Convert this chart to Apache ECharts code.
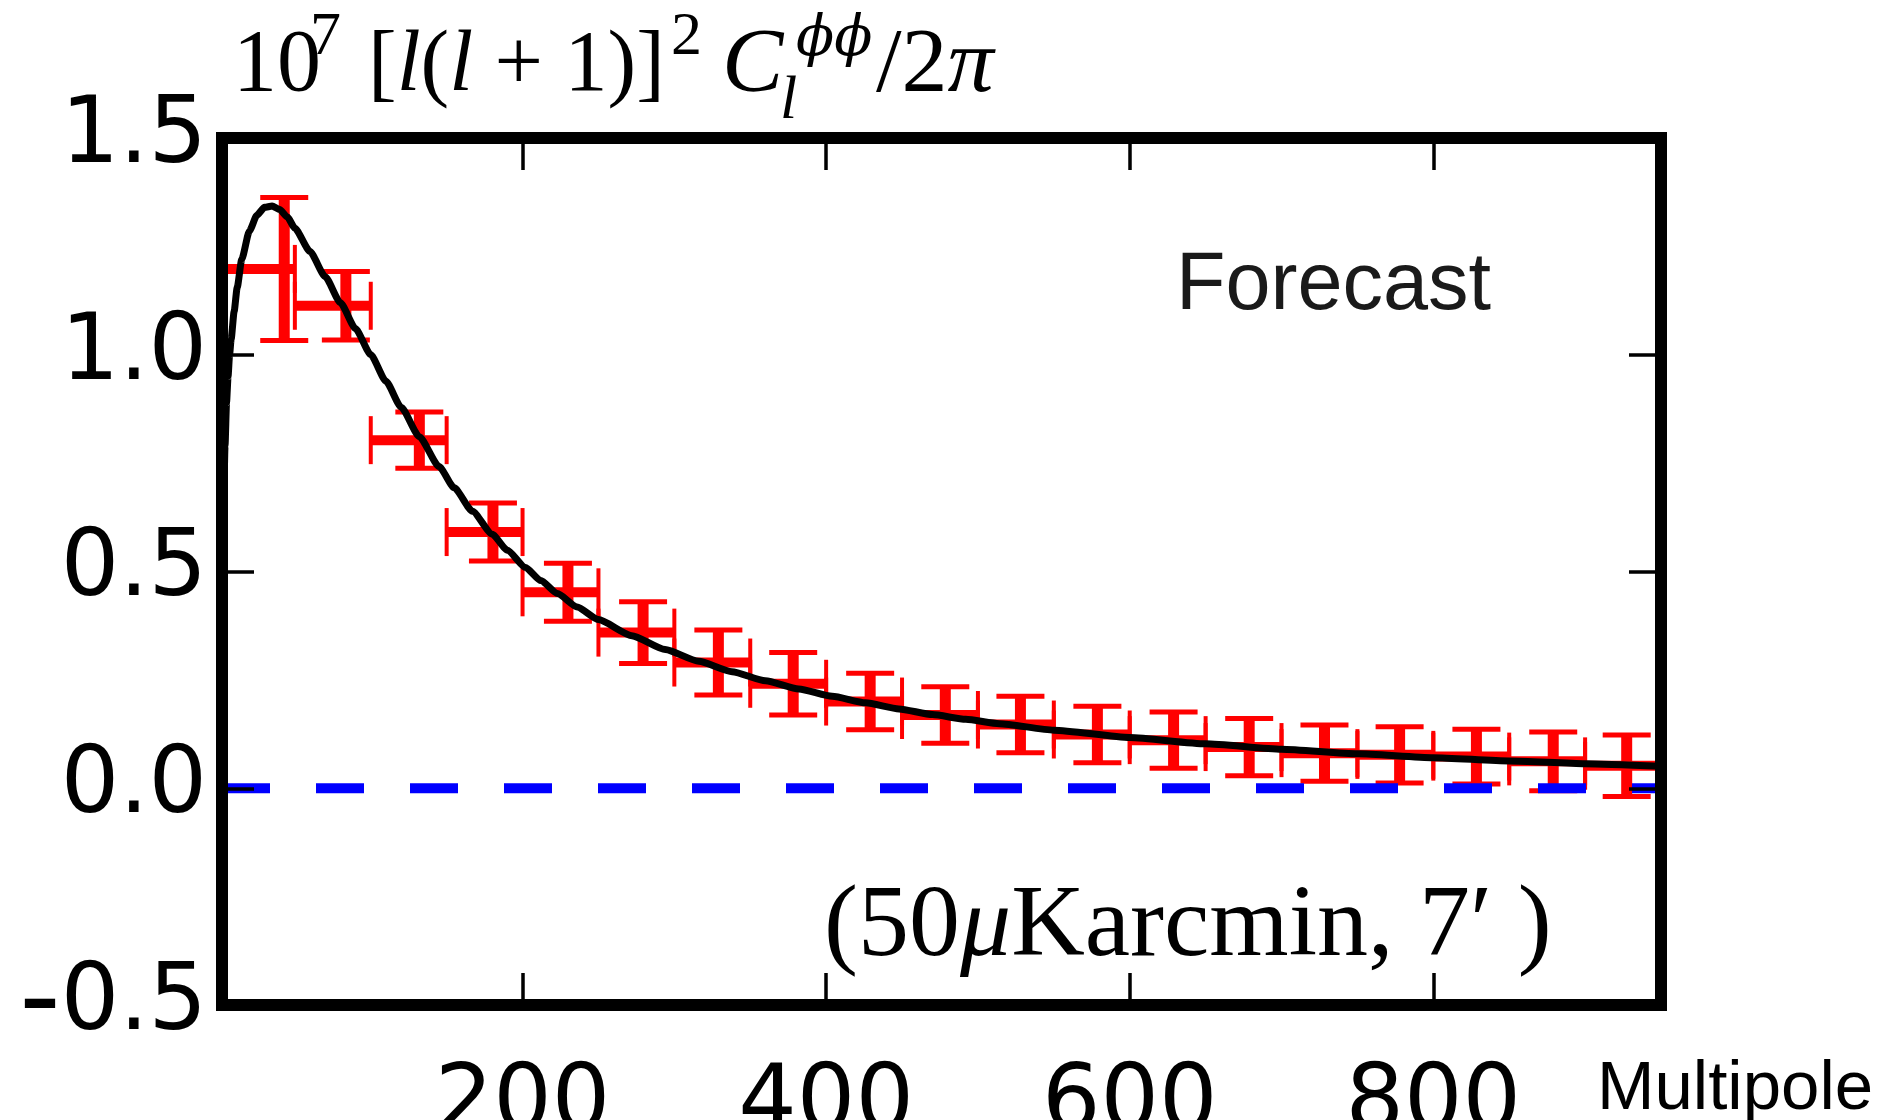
<!DOCTYPE html>
<html><head><meta charset="utf-8">
<script src="https://cdn.jsdelivr.net/npm/echarts@6/dist/echarts.min.js"></script>
<style>html,body{margin:0;padding:0;background:#fff}#c{width:1886px;height:1120px}</style>
</head><body><div id="c"></div>
<script>
// ---- data ----
const binLow  = [2,50,100,150,200,250,300,350,400,450,500,550,600,650,700,750,800,850,900];
const binHigh = [50,100,150,200,250,300,350,400,450,500,550,600,650,700,750,800,850,900,950];
const barL    = [43,83.6,132,180.5,229.9,279.4,329,378.3,429,478.5,528,578.7,628.9,678.7,728.3,777.8,828.4,879,927.4];
const barVal  = [1.198,1.113,0.803,0.591,0.452,0.359,0.290,0.241,0.200,0.169,0.147,0.124,0.111,0.095,0.081,0.077,0.073,0.062,0.052];
const barErr  = [0.165,0.079,0.065,0.067,0.067,0.071,0.075,0.072,0.065,0.065,0.065,0.065,0.065,0.066,0.065,0.065,0.063,0.068,0.071];

const curveL   = [2,3,4,5,6,7,8,10,12,15,20,25,30,35,40,45,50,60,70,80,90,100,110,120,132,145,155,167,180,190,202,212,223,236,250,272,294,316,338,360,382,404,426,448,470,492,514,550,600,650,700,750,800,850,900,950];
const curveVal = [0.45,0.65,0.79,0.89,0.95,1.0,1.035,1.10,1.155,1.22,1.285,1.322,1.34,1.343,1.335,1.318,1.292,1.238,1.18,1.12,1.06,1.0,0.939,0.879,0.811,0.742,0.693,0.639,0.586,0.549,0.509,0.479,0.449,0.418,0.389,0.352,0.320,0.293,0.269,0.248,0.229,0.212,0.197,0.183,0.170,0.159,0.149,0.134,0.117,0.1025,0.090,0.0795,0.0705,0.063,0.0565,0.0505];

const zeroLine = [[2,0],[950,0]];
const xTicks = [200,400,600,800];
const xMin = 2, xMax = 950;
const yMin = -0.5, yMax = 1.5, yStep = 0.5;

// ---- build ----
const errData = binLow.map((lo,i)=>[lo, binHigh[i], barL[i], barVal[i], barErr[i]]);
const curveData = curveL.map((l,i)=>[l, curveVal[i]]);

const chart = echarts.init(document.getElementById('c'), null, {renderer:'canvas'});

const frameLine = {show:true, onZero:false, lineStyle:{color:'#000', width:12, cap:'square'}};
const tickStyle = {show:true, inside:true, length:32, lineStyle:{color:'#000', width:3.5}};
const labelFont = {fontFamily:'DejaVu Sans', fontSize:92, color:'#000'};

function txt(x, y, text, size, family, extra) {
  const g = {
    type:'text', x:x, y:y, z:20,
    style:Object.assign({
      text:text, fontSize:size, fontFamily:family, fill:'#000',
      verticalAlign:'middle', textVerticalAlign:'middle', align:'left', textAlign:'left'
    }, extra||{})
  };
  g.style.rich = {i:{fontStyle:'italic', fontSize:size, fontFamily:family, fill:g.style.fill}};
  return g;
}
const serif = 'Liberation Serif';

chart.setOption({
  animation:false,
  backgroundColor:'#fff',
  grid:{left:222, top:138, right:225, bottom:115, containLabel:false, outerBoundsMode:'none'},
  xAxis:[
    {type:'value', min:xMin, max:xMax, position:'bottom', z:10,
     axisLine:frameLine,
     axisTick:Object.assign({customValues:xTicks}, tickStyle),
     axisLabel:Object.assign({customValues:xTicks, margin:55}, labelFont),
     splitLine:{show:false}},
    {type:'value', min:xMin, max:xMax, position:'top', z:10,
     axisLine:frameLine,
     axisTick:Object.assign({customValues:xTicks}, tickStyle),
     axisLabel:{show:false}, splitLine:{show:false}}
  ],
  yAxis:[
    {type:'value', min:yMin, max:yMax, interval:yStep, position:'left', z:10,
     axisLine:frameLine, axisTick:tickStyle,
     axisLabel:Object.assign({
       margin:15,
       formatter:v=> v<0 ? '{m|-}' + Math.abs(v).toFixed(1) : v.toFixed(1),
       rich:{m:{fontSize:115, fontFamily:'DejaVu Sans', color:'#000'}}
     }, labelFont),
     splitLine:{show:false}},
    {type:'value', min:yMin, max:yMax, interval:yStep, position:'right', z:10,
     axisLine:frameLine, axisTick:tickStyle,
     axisLabel:{show:false}, splitLine:{show:false}}
  ],
  series:[
    {type:'custom', z:2, clip:true, data:errData, encode:{x:2, y:3},
     renderItem:function(params, api){
       const lo=api.value(0), hi=api.value(1), lm=api.value(2), v=api.value(3), e=api.value(4);
       const pLo=api.coord([lo,v]), pHi=api.coord([hi,v]);
       const pT=api.coord([lm,v+e]), pB=api.coord([lm,v-e]);
       const red='#ff0000', cap=24;
       const ln=(x1,y1,x2,y2,w)=>({type:'line', shape:{x1,y1,x2,y2}, style:{stroke:red, lineWidth:w}});
       return {type:'group', children:[
         ln(pLo[0],pLo[1],pHi[0],pHi[1],10),
         ln(pT[0],pT[1],pB[0],pB[1],11),
         ln(pT[0]-cap,pT[1],pT[0]+cap,pT[1],5),
         ln(pB[0]-cap,pB[1],pB[0]+cap,pB[1],5),
         ln(pLo[0],pLo[1]-cap,pLo[0],pLo[1]+cap,4),
         ln(pHi[0],pHi[1]-cap,pHi[0],pHi[1]+cap,4)
       ]};
     }},
    {type:'line', z:3, data:curveData, showSymbol:false, symbol:'none',
     smooth:0.2, smoothMonotone:'x', clip:true,
     lineStyle:{color:'#000', width:7}},
    {type:'line', z:4, data:zeroLine, showSymbol:false, symbol:'none', clip:true,
     lineStyle:{color:'#0000ff', width:10, type:[48,46], cap:'butt'}}
  ],
  graphic:[
    // y-axis title (math)
    txt(233, 67, '10', 88, serif),
    txt(310, 38, '7', 62, serif),
    txt(368, 67, '[{i|l}({i|l} + 1)]', 86, serif),
    txt(671, 38, '2', 62, serif),
    txt(722, 67, 'C', 92, serif, {fontStyle:'italic'}),
    txt(796, 40, 'ϕϕ', 56, 'DejaVu Serif', {fontStyle:'italic'}),
    txt(780, 102, 'l', 62, serif, {fontStyle:'italic'}),
    txt(876, 67, '/2{i|π}', 92, serif),
    // annotations
    txt(1176, 287, 'Forecast', 81, 'Liberation Sans', {fill:'#1a1a1a'}),
    txt(824, 928, '(50{i|μ}Karcmin, 7′ )', 102, serif),
    txt(1597, 1090, 'Multipole', 69, 'Liberation Sans', {fill:'#000'})
  ]
});
</script>
</body></html>
